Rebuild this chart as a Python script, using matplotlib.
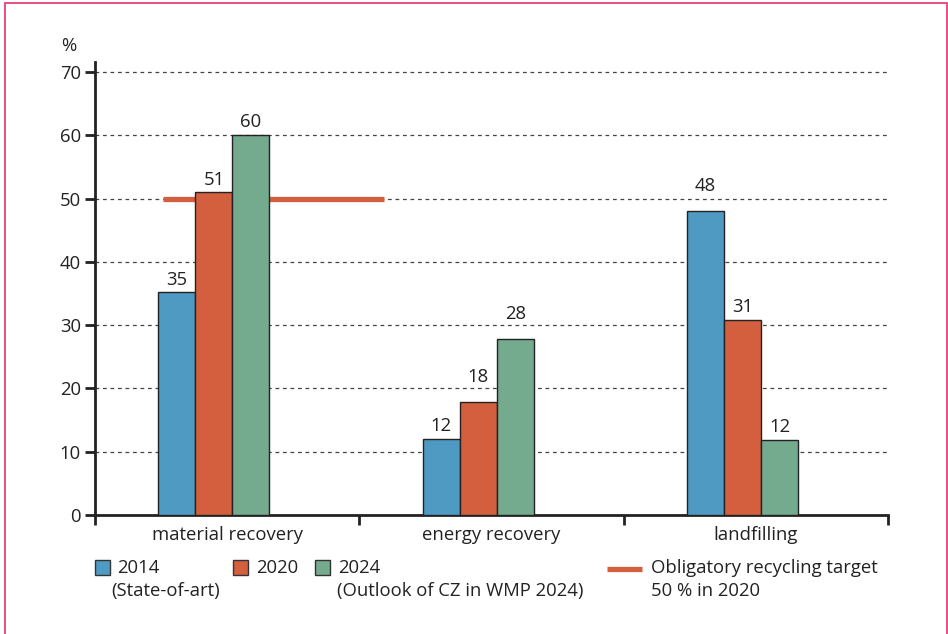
import matplotlib.pyplot as plt
from matplotlib.patches import Rectangle
from matplotlib.lines import Line2D
import numpy as np

plt.rcParams['font.family'] = ['Open Sans', 'DejaVu Sans']

categories = ["material recovery", "energy recovery", "landfilling"]
years = ["2014", "2020", "2024"]
v2014 = [35.2, 12.0, 48.0]
v2020 = [51.0, 17.9, 30.8]
v2024 = [60.0, 27.8, 11.8]
labels2014 = ["35", "12", "48"]
labels2020 = ["51", "18", "31"]
labels2024 = ["60", "28", "12"]
# heights at which the value labels are centred
laby2014 = [37.1, 14.1, 52.0]
laby2020 = [53.0, 21.8, 32.8]
laby2024 = [62.1, 31.8, 13.9]
target = 50
colors = ["#4f9ac3", "#d35f3f", "#74aa8e"]
target_color = "#d35f3f"
fs = 13.3

fig = plt.figure(figsize=(9.48, 6.34), dpi=100)
ax = fig.add_axes([95 / 948, 1 - 515 / 634, (888 - 95) / 948, (515 - 62) / 634])

x = np.arange(len(categories)) + 0.45
w = 0.14
series = [(v2014, labels2014, laby2014), (v2020, labels2020, laby2020),
          (v2024, labels2024, laby2024)]
for i, (vals, labs, ly) in enumerate(series):
    bars = ax.bar(x + (i - 1) * w, vals, w, color=colors[i], edgecolor="#222222",
                  linewidth=1.0, zorder=3)
    for b, lab, yy in zip(bars, labs, ly):
        ax.text(b.get_x() + b.get_width() / 2, yy, lab,
                ha="center", va="center", fontsize=fs, color="#222222", zorder=4)

# target line, sits behind the bars
ax.plot([0.258, 1.093], [target, target], color=target_color, lw=3.8,
        solid_capstyle="butt", zorder=2)

ax.set_xlim(0, 3)
ax.set_ylim(0, 71.6)
ax.set_yticks(range(0, 71, 10))
ax.set_xticks([0, 1, 2, 3])
ax.set_xticklabels([])
ax.set_xticks([0.5, 1.5, 2.5], minor=True)
ax.set_xticklabels(categories, minor=True, fontsize=fs, color="#222222")
ax.tick_params(axis="x", which="minor", length=0, pad=8)
ax.tick_params(axis="x", which="major", length=7, width=2, direction="out", color="#222222")
ax.tick_params(axis="y", length=7, width=2, direction="out", color="#222222",
               labelsize=fs, labelcolor="#222222", pad=3)

ax.grid(axis="y", ls=(0, (3, 3)), color="#444444", lw=0.9, zorder=0)
for s in ["top", "right"]:
    ax.spines[s].set_visible(False)
ax.spines["left"].set_linewidth(2)
ax.spines["bottom"].set_linewidth(2)
ax.spines["left"].set_color("#222222")
ax.spines["bottom"].set_color("#222222")

fig.text(61 / 948, 1 - 46 / 634, "%", fontsize=fs, color="#222222", va="center")

# legend
def fy(py):
    return 1 - py / 634

sq = 15
for px, c in [(95, colors[0]), (233, colors[1]), (315, colors[2])]:
    fig.patches.append(Rectangle((px / 948, fy(575)), sq / 948, sq / 634,
                                 transform=fig.transFigure, facecolor=c,
                                 edgecolor="#333333", lw=1.0))
fig.text(117 / 948, fy(568), "2014", fontsize=fs, va="center", color="#222222")
fig.text(111 / 948, fy(591), "(State-of-art)", fontsize=fs, va="center", color="#222222")
fig.text(256 / 948, fy(568), "2020", fontsize=fs, va="center", color="#222222")
fig.text(338 / 948, fy(568), "2024", fontsize=fs, va="center", color="#222222")
fig.text(337 / 948, fy(591), "(Outlook of CZ in WMP 2024)", fontsize=fs, va="center", color="#222222")
fig.lines.append(Line2D([607 / 948, 642 / 948], [fy(569), fy(569)], transform=fig.transFigure,
                        color=target_color, lw=3.8, solid_capstyle="butt"))
fig.text(651 / 948, fy(568), "Obligatory recycling target", fontsize=fs, va="center", color="#222222")
fig.text(651 / 948, fy(591), "50 % in 2020", fontsize=fs, va="center", color="#222222")

# pink frame
fig.patches.append(Rectangle((5 / 948, -0.05), 942 / 948, 1.05 - 3 / 634,
                             transform=fig.transFigure, fill=False,
                             edgecolor="#e8407a", lw=1.3))

fig.savefig("out.png", dpi=100)
